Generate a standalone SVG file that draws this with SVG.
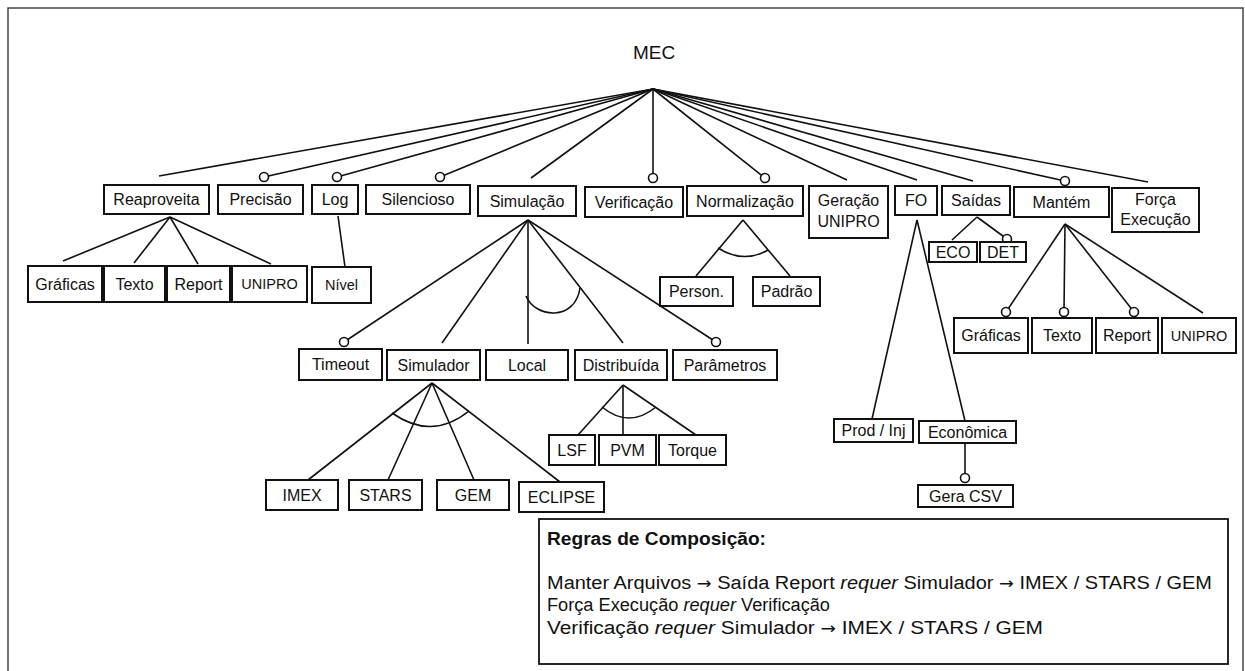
<svg xmlns="http://www.w3.org/2000/svg" width="1245" height="671" viewBox="0 0 1245 671">
  <style>
    .box { fill: #fff; stroke: #111; stroke-width: 2; }
    .lbl { font-family: "Liberation Sans", Arial, sans-serif; font-size: 16px; fill: #111; text-anchor: middle; }
    .sm { font-size: 14.5px; }
    .edge { stroke: #111; stroke-width: 1.6; fill: none; }
    .opt { fill: #fff; stroke: #111; stroke-width: 1.6; }
    .rule { font-family: "Liberation Sans", Arial, sans-serif; font-size: 18px; fill: #111; }
    .arr { font-family: "DejaVu Sans", sans-serif; font-size: 16px; }
  </style>

  <!-- page frame -->
  <rect x="8" y="8" width="1235" height="690" fill="#fff" stroke="#444" stroke-width="1.5"/>

  <!-- connectors -->
  <g id="connectors">
    <!-- root to first level -->
    <line class="edge" x1="653" y1="89" x2="159" y2="176"/>
    <line class="edge" x1="653" y1="89" x2="264" y2="177"/>
    <line class="edge" x1="653" y1="89" x2="337" y2="177"/>
    <line class="edge" x1="653" y1="89" x2="440" y2="177"/>
    <line class="edge" x1="653" y1="89" x2="531" y2="178"/>
    <line class="edge" x1="653" y1="89" x2="653" y2="178"/>
    <line class="edge" x1="653" y1="89" x2="765" y2="178"/>
    <line class="edge" x1="653" y1="89" x2="847" y2="180"/>
    <line class="edge" x1="653" y1="89" x2="917" y2="180"/>
    <line class="edge" x1="653" y1="89" x2="973" y2="181"/>
    <line class="edge" x1="653" y1="89" x2="1065" y2="181"/>
    <line class="edge" x1="653" y1="89" x2="1148" y2="182"/>

    <!-- Reaproveita -->
    <line class="edge" x1="170" y1="217" x2="63" y2="261"/>
    <line class="edge" x1="170" y1="217" x2="134" y2="263"/>
    <line class="edge" x1="170" y1="217" x2="198" y2="264"/>
    <line class="edge" x1="170" y1="217" x2="271" y2="264"/>

    <!-- Log -->
    <line class="edge" x1="338" y1="216" x2="345" y2="267"/>

    <!-- Simulação -->
    <line class="edge" x1="528" y1="220" x2="344" y2="342"/>
    <line class="edge" x1="528" y1="220" x2="442" y2="343"/>
    <line class="edge" x1="528" y1="220" x2="528" y2="344"/>
    <line class="edge" x1="528" y1="220" x2="623" y2="343"/>
    <line class="edge" x1="528" y1="220" x2="716" y2="342"/>
    <path class="edge" d="M526,296 C535,318 575,322 580,288"/>

    <!-- Simulador -->
    <line class="edge" x1="432" y1="383" x2="308" y2="480"/>
    <line class="edge" x1="432" y1="383" x2="388" y2="480"/>
    <line class="edge" x1="432" y1="383" x2="474" y2="480"/>
    <line class="edge" x1="432" y1="383" x2="560" y2="482"/>
    <path class="edge" d="M392,413 Q432,441 469,411"/>

    <!-- Distribuída -->
    <line class="edge" x1="623" y1="385" x2="578" y2="435"/>
    <line class="edge" x1="623" y1="385" x2="623" y2="435"/>
    <line class="edge" x1="623" y1="385" x2="696" y2="435"/>
    <path class="edge" d="M602,407 Q629,429 656,407"/>

    <!-- Normalização -->
    <line class="edge" x1="743" y1="220" x2="696" y2="276"/>
    <line class="edge" x1="743" y1="220" x2="790" y2="276"/>
    <path class="edge" d="M718,248 Q743,264 768,250"/>

    <!-- FO -->
    <line class="edge" x1="917" y1="220" x2="872" y2="419"/>
    <line class="edge" x1="917" y1="220" x2="965" y2="421"/>
    <line class="edge" x1="965" y1="443" x2="965" y2="478"/>

    <!-- Saídas -->
    <line class="edge" x1="977" y1="217" x2="952" y2="240"/>
    <line class="edge" x1="977" y1="217" x2="1007" y2="239"/>

    <!-- Mantém -->
    <line class="edge" x1="1065" y1="224" x2="1006" y2="312"/>
    <line class="edge" x1="1065" y1="224" x2="1064" y2="312"/>
    <line class="edge" x1="1065" y1="224" x2="1134" y2="312"/>
    <line class="edge" x1="1065" y1="224" x2="1203" y2="313"/>

    <!-- optional markers -->
    <circle class="opt" cx="264" cy="177" r="4.5"/>
    <circle class="opt" cx="337" cy="177" r="4.5"/>
    <circle class="opt" cx="440" cy="177" r="4.5"/>
    <circle class="opt" cx="653" cy="178" r="4.5"/>
    <circle class="opt" cx="765" cy="178" r="4.5"/>
    <circle class="opt" cx="1065" cy="181" r="4.5"/>
    <circle class="opt" cx="344" cy="342" r="4.5"/>
    <circle class="opt" cx="716" cy="342" r="4.5"/>
    <circle class="opt" cx="1007" cy="239" r="4.5"/>
    <circle class="opt" cx="1006" cy="312" r="4.5"/>
    <circle class="opt" cx="1064" cy="312" r="4.5"/>
    <circle class="opt" cx="1134" cy="312" r="4.5"/>
    <circle class="opt" cx="965" cy="478" r="4.5"/>
  </g>

  <!-- root -->
  <g id="mec">
    <text class="lbl" x="654" y="59" style="font-size:19px">MEC</text>
  </g>

  <!-- first level -->
  <g id="reaproveita"><rect class="box" x="104" y="185" width="105" height="29"/><text class="lbl" x="156.5" y="205">Reaproveita</text></g>
  <g id="precisao"><rect class="box" x="218" y="185" width="85" height="29"/><text class="lbl" x="260.5" y="205">Precisão</text></g>
  <g id="log"><rect class="box" x="312" y="185" width="46" height="29"/><text class="lbl" x="335" y="205">Log</text></g>
  <g id="silencioso"><rect class="box" x="366" y="185" width="104" height="29"/><text class="lbl" x="418" y="205">Silencioso</text></g>
  <g id="simulacao"><rect class="box" x="478" y="186" width="98" height="30"/><text class="lbl" x="527" y="206.5">Simulação</text></g>
  <g id="verificacao"><rect class="box" x="585" y="187" width="98" height="30"/><text class="lbl" x="634" y="207.5">Verificação</text></g>
  <g id="normalizacao"><rect class="box" x="687" y="186" width="116" height="30"/><text class="lbl" x="745" y="206.5">Normalização</text></g>
  <g id="geracao-unipro"><rect class="box" x="809" y="186" width="79" height="52"/><text class="lbl" x="848.5" y="206">Geração</text><text class="lbl" x="848.5" y="227">UNIPRO</text></g>
  <g id="fo"><rect class="box" x="895" y="186" width="42" height="29"/><text class="lbl" x="916" y="206">FO</text></g>
  <g id="saidas"><rect class="box" x="942" y="186" width="68" height="29"/><text class="lbl" x="976" y="206">Saídas</text></g>
  <g id="mantem"><rect class="box" x="1014" y="187" width="95" height="30"/><text class="lbl" x="1061.5" y="207.5">Mantém</text></g>
  <g id="forca-execucao"><rect class="box" x="1112" y="188" width="87" height="44"/><text class="lbl" x="1155.5" y="205">Força</text><text class="lbl" x="1155.5" y="225">Execução</text></g>

  <!-- Reaproveita children -->
  <g id="r-graficas"><rect class="box" x="28" y="266" width="74" height="36"/><text class="lbl" x="65" y="289.5">Gráficas</text></g>
  <g id="r-texto"><rect class="box" x="104" y="266" width="61" height="36"/><text class="lbl" x="134.5" y="289.5">Texto</text></g>
  <g id="r-report"><rect class="box" x="167" y="266" width="63" height="36"/><text class="lbl" x="198.5" y="289.5">Report</text></g>
  <g id="r-unipro"><rect class="box" x="232" y="266" width="75" height="36"/><text class="lbl sm" x="269.5" y="289">UNIPRO</text></g>

  <!-- Log child -->
  <g id="nivel"><rect class="box" x="312" y="267" width="59" height="36"/><text class="lbl sm" x="341.5" y="290">Nível</text></g>

  <!-- Normalização children -->
  <g id="person"><rect class="box" x="660" y="277" width="73" height="29"/><text class="lbl" x="696.5" y="297">Person.</text></g>
  <g id="padrao"><rect class="box" x="753" y="277" width="67" height="29"/><text class="lbl" x="786.5" y="297">Padrão</text></g>

  <!-- Saídas children -->
  <g id="eco"><rect class="box" x="929" y="242" width="48" height="20"/><text class="lbl" x="953" y="258">ECO</text></g>
  <g id="det"><rect class="box" x="980" y="242" width="46" height="20"/><text class="lbl" x="1003" y="258">DET</text></g>

  <!-- Simulação children -->
  <g id="timeout"><rect class="box" x="299" y="349" width="83" height="31"/><text class="lbl" x="340.5" y="370">Timeout</text></g>
  <g id="simulador"><rect class="box" x="387" y="350" width="93" height="30"/><text class="lbl" x="433.5" y="370.5">Simulador</text></g>
  <g id="local"><rect class="box" x="486" y="350" width="82" height="30"/><text class="lbl" x="527" y="370.5">Local</text></g>
  <g id="distribuida"><rect class="box" x="575" y="350" width="92" height="30"/><text class="lbl" x="621" y="370.5">Distribuída</text></g>
  <g id="parametros"><rect class="box" x="673" y="350" width="104" height="30"/><text class="lbl" x="725" y="370.5">Parâmetros</text></g>

  <!-- Simulador children -->
  <g id="imex"><rect class="box" x="266" y="480" width="72" height="30"/><text class="lbl" x="302" y="500.5">IMEX</text></g>
  <g id="stars"><rect class="box" x="349" y="480" width="73" height="30"/><text class="lbl" x="385.5" y="500.5">STARS</text></g>
  <g id="gem"><rect class="box" x="437" y="480" width="72" height="30"/><text class="lbl" x="473" y="500.5">GEM</text></g>
  <g id="eclipse"><rect class="box" x="519" y="482" width="85" height="30"/><text class="lbl" x="561.5" y="502.5">ECLIPSE</text></g>

  <!-- Distribuída children -->
  <g id="lsf"><rect class="box" x="549" y="435" width="46" height="30"/><text class="lbl" x="572" y="455.5">LSF</text></g>
  <g id="pvm"><rect class="box" x="599" y="435" width="57" height="30"/><text class="lbl" x="627.5" y="455.5">PVM</text></g>
  <g id="torque"><rect class="box" x="659" y="435" width="67" height="30"/><text class="lbl" x="692.5" y="455.5">Torque</text></g>

  <!-- FO children -->
  <g id="prod-inj"><rect class="box" x="834" y="419" width="79" height="23"/><text class="lbl" x="873.5" y="436">Prod / Inj</text></g>
  <g id="economica"><rect class="box" x="919" y="421" width="97" height="22"/><text class="lbl" x="967.5" y="438">Econômica</text></g>
  <g id="gera-csv"><rect class="box" x="918" y="485" width="95" height="22"/><text class="lbl" x="965.5" y="502">Gera CSV</text></g>

  <!-- Mantém children -->
  <g id="m-graficas"><rect class="box" x="954" y="318" width="74" height="35"/><text class="lbl" x="991" y="341">Gráficas</text></g>
  <g id="m-texto"><rect class="box" x="1032" y="318" width="60" height="35"/><text class="lbl" x="1062" y="341">Texto</text></g>
  <g id="m-report"><rect class="box" x="1096" y="318" width="62" height="35"/><text class="lbl" x="1127" y="341">Report</text></g>
  <g id="m-unipro"><rect class="box" x="1162" y="318" width="74" height="35"/><text class="lbl sm" x="1199" y="340.5">UNIPRO</text></g>

  <!-- composition rules -->
  <g id="regras">
    <rect x="539" y="519" width="689" height="145" fill="#fff" stroke="#111" stroke-width="1.8"/>
    <text class="rule" x="547" y="545" font-weight="bold" textLength="219" lengthAdjust="spacingAndGlyphs">Regras de Composição:</text>
    <text class="rule" x="547" y="589" textLength="665" lengthAdjust="spacingAndGlyphs">Manter Arquivos <tspan class="arr">→</tspan> Saída Report <tspan font-style="italic">requer</tspan> Simulador <tspan class="arr">→</tspan> IMEX / STARS / GEM</text>
    <text class="rule" x="547" y="611" textLength="283" lengthAdjust="spacingAndGlyphs">Força Execução <tspan font-style="italic">requer</tspan> Verificação</text>
    <text class="rule" x="547" y="634" textLength="496" lengthAdjust="spacingAndGlyphs">Verificação <tspan font-style="italic">requer</tspan> Simulador <tspan class="arr">→</tspan> IMEX / STARS / GEM</text>
  </g>
</svg>
